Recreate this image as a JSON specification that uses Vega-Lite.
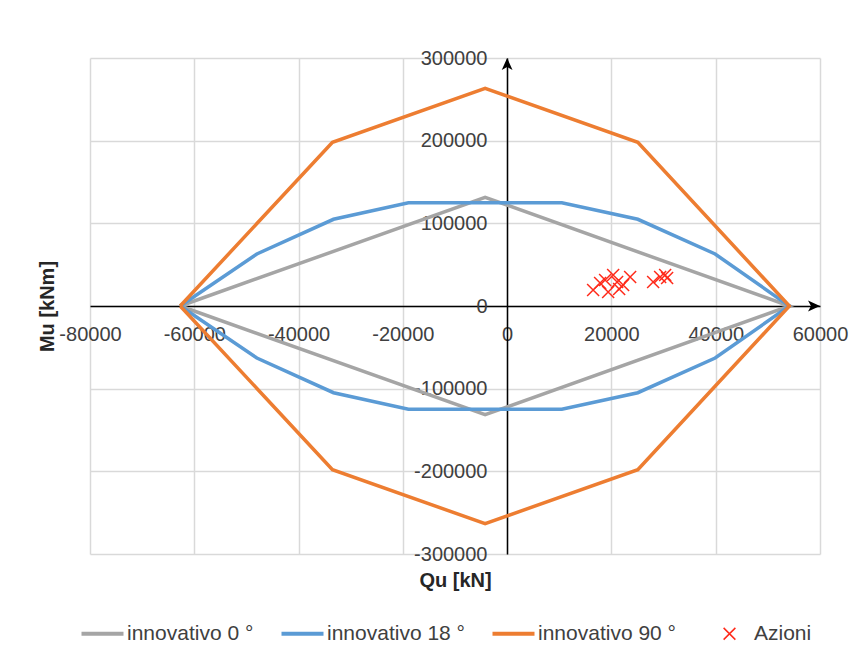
{
  "$schema": "https://vega.github.io/schema/vega-lite/v6.json",
  "width": 730,
  "height": 496,
  "autosize": {"type": "none"},
  "padding": {"left": 90, "top": 58, "right": 39, "bottom": 103},
  "background": "#ffffff",
  "config": {
    "view": {"stroke": null},
    "font": "Liberation Sans",
    "axis": {
      "domainColor": "#000000",
      "domainWidth": 1.5,
      "ticks": false,
      "tickSize": 0,
      "grid": true,
      "gridColor": "#D9D9D9",
      "gridWidth": 1.5,
      "labelFont": "Liberation Sans",
      "labelFontSize": 20,
      "labelColor": "#404040",
      "labelOverlap": false,
      "labelFlush": false,
      "labelBound": false,
      "labelExpr": "datum.value + ''",
      "titleFont": "Liberation Sans",
      "titleFontSize": 20,
      "titleFontWeight": "bold",
      "titleColor": "#262626",
      "zindex": 1
    }
  },
  "datasets": {
    "curves": [
      {"series": "innovativo 0 °", "i": 0, "Qu": -62700, "Mu": 0},
      {"series": "innovativo 0 °", "i": 1, "Qu": -4220, "Mu": 131500},
      {"series": "innovativo 0 °", "i": 2, "Qu": 54130, "Mu": 0},
      {"series": "innovativo 0 °", "i": 3, "Qu": -4220, "Mu": -131500},
      {"series": "innovativo 0 °", "i": 4, "Qu": -62700, "Mu": 0},
      {"series": "innovativo 18 °", "i": 0, "Qu": -62700, "Mu": 0},
      {"series": "innovativo 18 °", "i": 1, "Qu": -48000, "Mu": 62900},
      {"series": "innovativo 18 °", "i": 2, "Qu": -33300, "Mu": 104900},
      {"series": "innovativo 18 °", "i": 3, "Qu": -18930, "Mu": 125000},
      {"series": "innovativo 18 °", "i": 4, "Qu": 10490, "Mu": 125000},
      {"series": "innovativo 18 °", "i": 5, "Qu": 25060, "Mu": 104900},
      {"series": "innovativo 18 °", "i": 6, "Qu": 39890, "Mu": 62900},
      {"series": "innovativo 18 °", "i": 7, "Qu": 54130, "Mu": 0},
      {"series": "innovativo 18 °", "i": 8, "Qu": 39890, "Mu": -62900},
      {"series": "innovativo 18 °", "i": 9, "Qu": 25060, "Mu": -104900},
      {"series": "innovativo 18 °", "i": 10, "Qu": 10490, "Mu": -125000},
      {"series": "innovativo 18 °", "i": 11, "Qu": -18930, "Mu": -125000},
      {"series": "innovativo 18 °", "i": 12, "Qu": -33300, "Mu": -104900},
      {"series": "innovativo 18 °", "i": 13, "Qu": -48000, "Mu": -62900},
      {"series": "innovativo 18 °", "i": 14, "Qu": -62700, "Mu": 0},
      {"series": "innovativo 90 °", "i": 0, "Qu": -62700, "Mu": 0},
      {"series": "innovativo 90 °", "i": 1, "Qu": -33500, "Mu": 198000},
      {"series": "innovativo 90 °", "i": 2, "Qu": -4220, "Mu": 263300},
      {"series": "innovativo 90 °", "i": 3, "Qu": 25060, "Mu": 198000},
      {"series": "innovativo 90 °", "i": 4, "Qu": 54130, "Mu": 0},
      {"series": "innovativo 90 °", "i": 5, "Qu": 25060, "Mu": -198000},
      {"series": "innovativo 90 °", "i": 6, "Qu": -4220, "Mu": -263300},
      {"series": "innovativo 90 °", "i": 7, "Qu": -33500, "Mu": -198000},
      {"series": "innovativo 90 °", "i": 8, "Qu": -62700, "Mu": 0}
    ],
    "azioni": [
      {"series": "Azioni", "Qu": 16490, "Mu": 19350},
      {"series": "Azioni", "Qu": 19370, "Mu": 16900},
      {"series": "Azioni", "Qu": 20330, "Mu": 37500},
      {"series": "Azioni", "Qu": 18790, "Mu": 31450},
      {"series": "Azioni", "Qu": 21090, "Mu": 29000},
      {"series": "Azioni", "Qu": 22240, "Mu": 25400},
      {"series": "Azioni", "Qu": 23590, "Mu": 35100},
      {"series": "Azioni", "Qu": 28000, "Mu": 29000},
      {"series": "Azioni", "Qu": 29340, "Mu": 35100},
      {"series": "Azioni", "Qu": 30300, "Mu": 37500},
      {"series": "Azioni", "Qu": 30680, "Mu": 33900},
      {"series": "Azioni", "Qu": 17830, "Mu": 27800},
      {"series": "Azioni", "Qu": 21480, "Mu": 20600}
    ],
    "arrows": [
      {"dir": "right", "Qu": 60000, "Mu": 0},
      {"dir": "up", "Qu": 0, "Mu": 300000}
    ]
  },
  "encoding": {
    "x": {
      "field": "Qu",
      "type": "quantitative",
      "scale": {"domain": [-80000, 60000], "nice": false, "zero": false},
      "axis": {
        "values": [-80000, -60000, -40000, -20000, 0, 20000, 40000, 60000],
        "offset": -248,
        "labelPadding": 34,
        "labelBaseline": "alphabetic",
        "title": "Qu [kN]",
        "titleX": 365,
        "titleY": 280,
        "titleBaseline": "alphabetic",
        "titleAlign": "center"
      }
    },
    "y": {
      "field": "Mu",
      "type": "quantitative",
      "scale": {"domain": [-300000, 300000], "nice": false, "zero": false},
      "axis": {
        "values": [-300000, -200000, -100000, 0, 100000, 200000, 300000],
        "offset": -417,
        "labelPadding": 20,
        "labelBaseline": "middle",
        "title": "Mu [kNm]",
        "titleAngle": -90,
        "titleX": -454,
        "titleY": 248,
        "titleBaseline": "alphabetic",
        "titleAlign": "center"
      }
    }
  },
  "layer": [
    {
      "data": {"name": "curves"},
      "mark": {"type": "line", "strokeWidth": 3.5, "strokeJoin": "miter"},
      "encoding": {
        "order": {"field": "i", "type": "quantitative"},
        "color": {
          "field": "series",
          "type": "nominal",
          "scale": {
            "domain": ["innovativo 0 °", "innovativo 18 °", "innovativo 90 °", "Azioni"],
            "range": ["#A5A5A5", "#5B9BD5", "#ED7D31", "#FF2A1A"]
          },
          "legend": {
            "orient": "none",
            "direction": "horizontal",
            "legendX": 2,
            "legendY": 565,
            "title": null,
            "symbolType": "M-1,0L1,0",
            "symbolSize": 1764,
            "symbolStrokeWidth": 4,
            "labelFont": "Liberation Sans",
            "labelFontSize": 21,
            "labelColor": "#404040",
            "labelOffset": 14,
            "columnPadding": 19,
            "encode": {
              "symbols": {
                "update": {
                  "shape": {"signal": "datum.value === 'Azioni' ? 'M-1.5,0M-0.28,-0.28L0.28,0.28M0.28,-0.28L-0.28,0.28' : 'M-1,0L1,0'"},
                  "strokeWidth": {"signal": "datum.value === 'Azioni' ? 1.5 : 4"}
                }
              }
            }
          }
        }
      }
    },
    {
      "data": {"name": "azioni"},
      "mark": {"type": "point", "shape": "M-1,-1L1,1M1,-1L-1,1", "size": 144, "strokeWidth": 1.5, "filled": false, "opacity": 1},
      "encoding": {
        "color": {"field": "series", "type": "nominal"}
      }
    },
    {
      "data": {"name": "arrows"},
      "mark": {"type": "point", "filled": true, "size": 576, "color": "#000000", "opacity": 1},
      "encoding": {
        "shape": {
          "field": "dir",
          "type": "nominal",
          "scale": {"domain": ["right", "up"], "range": ["M0,0L-1,-0.45L-0.75,0L-1,0.45Z", "M0,0L-0.45,1L0,0.75L0.45,1Z"]},
          "legend": null
        }
      }
    }
  ]
}
